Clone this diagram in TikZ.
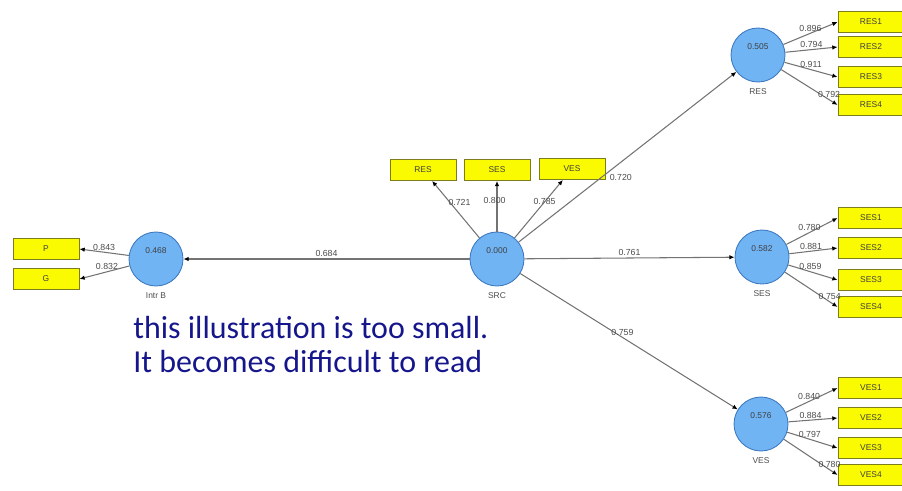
\documentclass[tikz,border=0pt]{standalone}
\usepackage{fontspec}
\setsansfont{Liberation Sans}
\newfontfamily\notefont{Carlito}
\usetikzlibrary{arrows.meta}
\definecolor{latentfc}{RGB}{112,180,244}
\definecolor{latentdc}{RGB}{62,122,192}
\definecolor{indicfc}{RGB}{250,250,0}
\definecolor{indicdc}{RGB}{125,125,30}
\definecolor{notec}{RGB}{22,22,140}
\colorlet{linkc}{black!55}
\colorlet{wtc}{black!70}

\begin{document}
\begin{tikzpicture}[x=0.02cm,y=-0.02cm,
    latent/.style={circle,draw=latentdc,line width=0.5pt,fill=latentfc,minimum size=1.08cm,inner sep=0pt},
    indic/.style={rectangle,draw=indicdc,line width=0.5pt,fill=indicfc,minimum width=1.32cm,minimum height=0.42cm,inner sep=0pt,
        font=\sffamily\fontsize{4.8}{5}\selectfont,text=black!75},
    val/.style={label={[yshift=5pt,font=\sffamily\fontsize{4.8}{5}\selectfont,text=black!75]center:#1}},
    lvname/.style={label={[label distance=0pt,font=\sffamily\fontsize{4.8}{5}\selectfont,text=black!70]below:#1}},
    link/.style={draw=linkc,line width=0.6pt,-{Latex[color=black,length=3pt,width=2.6pt]}},
    wt/.style={font=\sffamily\fontsize{5}{5}\selectfont,text=wtc,inner sep=0.8pt},
    note/.style={font=\notefont\fontsize{18.2}{19.4}\selectfont,text=notec,inner sep=0pt,anchor=base west}]
\useasboundingbox (0,0) rectangle (902,490);

% latent variables
\node[latent,val=0.000,lvname=SRC] (src) at (497,259) {};
\node[latent,val=0.468,lvname=Intr B] (intrb) at (156,259) {};
\node[latent,val=0.505,lvname=RES] (resc) at (758,55) {};
\node[latent,val=0.582,lvname=SES] (sesc) at (762,257) {};
\node[latent,val=0.576,lvname=VES] (vesc) at (761,424) {};

% indicators
\node[indic] (p) at (46,249) {P};
\node[indic] (g) at (46,279) {G};
\node[indic] (res) at (423,170) {RES};
\node[indic] (ses) at (497,170) {SES};
\node[indic] (ves) at (572,169) {VES};
\foreach \i/\y in {1/22,2/47,3/77,4/105}
    \node[indic] (res\i) at (871,\y) {RES\i};
\foreach \i/\y in {1/218,2/248,3/280,4/307}
    \node[indic] (ses\i) at (871,\y) {SES\i};
\foreach \i/\y in {1/388,2/418,3/448,4/475}
    \node[indic] (ves\i) at (871,\y) {VES\i};

% structural paths
\draw[link] (src) -- (intrb) node[wt,pos=0.5,above] {0.684};
\draw[link] (src) -- (sesc) node[wt,pos=0.5,above] {0.761};
\draw[link] (src) -- (vesc) node[wt,pos=0.47,above] {0.759};
\draw[link] (src) -- (resc) node[wt,pos=0.41,below right] {0.720};

% loadings
\draw[link] (src) -- (res) node[wt,pos=0.62,right,xshift=-2pt] {0.721};
\draw[link] (src) -- (ses) node[wt,pos=0.62,left,xshift=6pt] {0.800};
\draw[link] (src) -- (ves) node[wt,pos=0.62] {0.785};
\draw[link] (intrb) -- (p.east) node[wt,pos=0.5,above] {0.843};
\draw[link] (intrb) -- (g.east) node[wt,pos=0.45,above] {0.832};

\draw[link] (resc) -- (res1.west) node[wt,pos=0.5,above] {0.896};
\draw[link] (resc) -- (res2.west) node[wt,pos=0.5,above] {0.794};
\draw[link] (resc) -- (res3.west) node[wt,pos=0.5,above] {0.911};
\draw[link] (resc) -- (res4.west) node[wt,pos=0.85,above] {0.792};

\draw[link] (sesc) -- (ses1.west) node[wt,pos=0.45,above] {0.780};
\draw[link] (sesc) -- (ses2.west) node[wt,pos=0.45,above] {0.881};
\draw[link] (sesc) -- (ses3.west) node[wt,pos=0.45,above] {0.859};
\draw[link] (sesc) -- (ses4.west) node[wt,pos=0.85,above] {0.754};

\draw[link] (vesc) -- (ves1.west) node[wt,pos=0.45,above] {0.840};
\draw[link] (vesc) -- (ves2.west) node[wt,pos=0.45,above] {0.884};
\draw[link] (vesc) -- (ves3.west) node[wt,pos=0.45,above] {0.797};
\draw[link] (vesc) -- (ves4.west) node[wt,pos=0.85,above] {0.780};

\node[note] (note1) at (133,338) {this illustration is too small.};
\node[note] (note2) at (133,372) {It becomes difficult to read};
\end{tikzpicture}
\end{document}
